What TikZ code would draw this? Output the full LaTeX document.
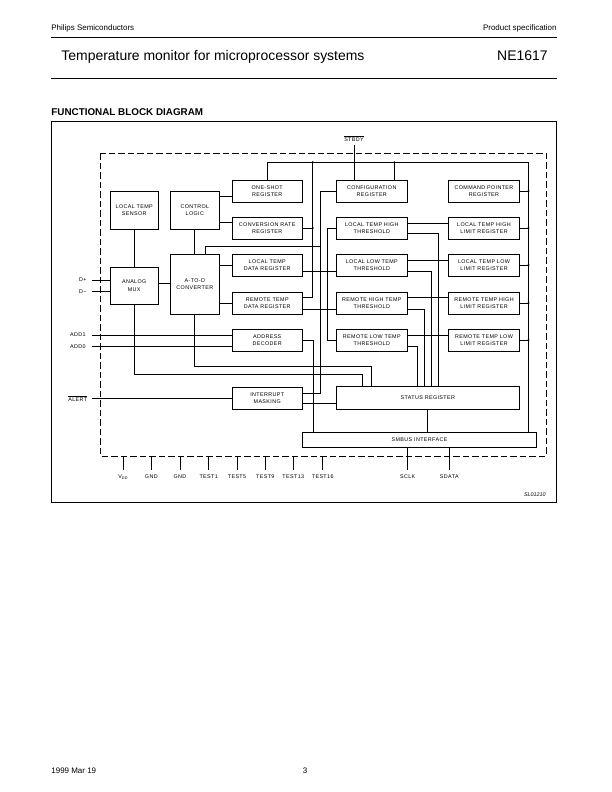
\documentclass[tikz,border=0pt]{standalone}
\usepackage{fontspec}
\setmainfont{Liberation Sans}
\newfontfamily\blkfont[LetterSpace=7]{Liberation Sans}
\begin{document}
\begin{tikzpicture}[x=1bp,y=-1bp,line width=0.8bp,
  blk/.style={draw,line width=0.9bp,inner sep=0pt,align=center,font=\blkfont\fontsize{5.4}{7.2}\selectfont},
  reg/.style={blk,minimum width=70.5bp,minimum height=22bp},
  dot/.style={circle,fill,inner sep=0pt,minimum size=2.2bp},
  pinlab/.style={inner sep=0pt,font=\blkfont\fontsize{5.4}{6}\selectfont},
  dashbox/.style={line width=0.8bp,dash pattern=on 6.5bp off 3bp}]
\fill[white] (0,0) rectangle (612,792);
\useasboundingbox (0,0) rectangle (612,792);
% header
\node[anchor=base west,inner sep=0pt,font=\fontsize{8}{9}\selectfont] (hl) at (51,30.8) {Philips Semiconductors};
\node[anchor=base east,inner sep=0pt,font=\fontsize{8}{9}\selectfont] (hr) at (557,30.8) {Product specification};
\draw[line width=0.9bp] (51,37) -- (557,37);
\node[anchor=base west,inner sep=0pt,font=\fontsize{14}{15}\selectfont] (title) at (61,61) {Temperature monitor for microprocessor systems};
\node[anchor=base east,inner sep=0pt,font=\fontsize{14}{15}\selectfont] (part) at (548,61) {NE1617};
\draw[line width=0.9bp] (51,78) -- (557,78);
\node[anchor=base west,inner sep=0pt,font=\bfseries\fontsize{9.9}{11}\selectfont] (fbd) at (51,115.5) {FUNCTIONAL BLOCK DIAGRAM};
% footer
\node[anchor=base west,inner sep=0pt,font=\fontsize{8}{9}\selectfont] (date) at (51,773) {1999 Mar 19};
\node[anchor=base,inner sep=0pt,font=\fontsize{8}{9}\selectfont] (page) at (305,773) {3};
% frames
\draw[line width=0.8bp] (51,121) rectangle (556,502);
\draw[dashbox] (100.3,153.3) rectangle (546,456);
% blocks
\node[blk,minimum width=48.5bp,minimum height=38bp] (lts) at (134.2,210) {LOCAL TEMP\\SENSOR};
\node[blk,minimum width=49bp,minimum height=38bp] (cl) at (194.8,210) {CONTROL\\LOGIC};
\node[blk,minimum width=48.5bp,minimum height=36.7bp] (mux) at (134.2,285.7) {ANALOG\\MUX};
\node[blk,minimum width=49bp,minimum height=59.7bp] (adc) at (194.8,284.2) {A-TO-D\\CONVERTER};
\node[reg] (os) at (267.2,191) {ONE-SHOT\\REGISTER};
\node[reg] (cr) at (267.2,228) {CONVERSION RATE\\REGISTER};
\node[reg] (ltd) at (267.2,265) {LOCAL TEMP\\DATA REGISTER};
\node[reg] (rtd) at (267.2,303) {REMOTE TEMP\\DATA REGISTER};
\node[reg] (ad) at (267.2,340) {ADDRESS\\DECODER};
\node[reg] (im) at (267.2,398) {INTERRUPT\\MASKING};
\node[reg] (cfg) at (371.8,191) {CONFIGURATION\\REGISTER};
\node[reg] (lht) at (371.8,228) {LOCAL TEMP HIGH\\THRESHOLD};
\node[reg] (llt) at (371.8,265) {LOCAL LOW TEMP\\THRESHOLD};
\node[reg] (rht) at (371.8,303) {REMOTE HIGH TEMP\\THRESHOLD};
\node[reg] (rlt) at (371.8,340) {REMOTE LOW TEMP\\THRESHOLD};
\node[reg] (cp) at (484,191) {COMMAND POINTER\\REGISTER};
\node[reg] (lhl) at (484,228) {LOCAL TEMP HIGH\\LIMIT REGISTER};
\node[reg] (lll) at (484,265) {LOCAL TEMP LOW\\LIMIT REGISTER};
\node[reg] (rhl) at (484,303) {REMOTE TEMP HIGH\\LIMIT REGISTER};
\node[reg] (rll) at (484,340) {REMOTE TEMP LOW\\LIMIT REGISTER};
\node[blk,minimum width=183.5bp,minimum height=22.3bp] (sr) at (427.8,398) {STATUS REGISTER};
\node[blk,minimum width=233.6bp,minimum height=15.3bp] (smb) at (419.5,439.7) {SMBUS INTERFACE};
% STBDY
\node[pinlab,inner ysep=2.5bp] (stb) at (354,139) {$\overline{\hbox{\blkfont\fontsize{5.4}{6}\selectfont STBDY}}$};
\draw (stb.south) -- (stb.south |- cfg.north);
% top bus and right bus
\draw (os.north) |- (528.5,162.3) -- (528.5,0 |- smb.north);
\draw (394.3,162.3) -- (394.3,0 |- cfg.north);
\draw (312.7,162.3) |- (rtd.east |- 0,297.7);
\draw (cr.east) -- (312.7,0 |- cr.east);
\node[dot] at (312.7,162.3) {};
\node[dot] at (394.3,162.3) {};
\node[dot] at (312.7,228) {};
% control logic
\draw (cl.east |- 0,196) -- (os.west |- 0,196);
\draw (cl.east |- 0,222.7) -- (cr.west |- 0,222.7);
\draw (cl.south) -- (adc.north);
\draw (lts.south) -- (mux.north);
\draw (mux.east |- 0,283.5) -- (adc.west |- 0,283.5);
\draw (adc.east |- ltd.west) -- (ltd.west);
\draw (adc.east |- rtd.west) -- (rtd.west);
\draw (205,0 |- adc.north) -- (205,246.7) -- (320.5,246.7);
\draw (cfg.west) -- (320.5,0 |- cfg.west) -- (320.5,393.3) -- (im.east |- 0,393.3);
% data registers to thresholds
\draw (ltd.east |- 0,271.7) -- (llt.west |- 0,271.7);
\draw (rtd.east |- 0,309.3) -- (rht.west |- 0,309.3);
\draw (lht.west) -- (327.3,0 |- lht.west) -- (327.3,0 |- rlt.west) -- (rlt.west);
\node[dot] at (327.3,271.7) {};
\node[dot] at (327.3,309.3) {};
\draw (ad.east) -- (313.3,0 |- ad.east) -- (313.3,0 |- smb.north);
% thresholds to limits and status
\draw (lht.east |- 0,223.3) -- (lhl.west |- 0,223.3);
\draw (lht.east |- 0,233.8) -| (438.3,0 |- sr.north);
\draw (llt.east |- 0,260) -- (lll.west |- 0,260);
\draw (llt.east |- 0,271.7) -| (431.7,0 |- sr.north);
\draw (rht.east |- 0,297.7) -- (rhl.west |- 0,297.7);
\draw (rht.east |- 0,309.3) -| (424.3,0 |- sr.north);
\draw (rlt.east |- 0,335) -- (rll.west |- 0,335);
\draw (rlt.east |- 0,346.7) -| (417.3,0 |- sr.north);
\foreach \n in {cp,lhl,lll,rhl,rll} {
  \draw (\n.east) -- (528.5,0 |- \n.east) node[dot] {};
}
% to status register
\draw (adc.south) |- (371.7,366) -- (371.7,0 |- sr.north);
\draw (mux.south) |- (362.3,374.3) -- (362.3,0 |- sr.north);
\draw (im.east |- 0,403.3) -- (sr.west |- 0,403.3);
\draw (sr.south) -- (sr.south |- smb.north);
% left pins
\node[pinlab,anchor=east] (dp) at (87,280) {D+};
\node[pinlab,anchor=east] (dm) at (87,291.7) {D−};
\node[pinlab,anchor=east] (a1) at (86,335) {ADD1};
\node[pinlab,anchor=east] (a0) at (86,346.7) {ADD0};
\node[pinlab,anchor=east] (al) at (87.5,398.3) {$\overline{\hbox{\blkfont\fontsize{5.4}{6}\selectfont ALERT}}$};
\draw (91.7,0 |- dp.east) -- (dp.east -| mux.west);
\draw (91.7,0 |- dm.east) -- (dm.east -| mux.west);
\draw (91.7,0 |- a1.east) -- (a1.east -| ad.west);
\draw (91.7,0 |- a0.east) -- (a0.east -| ad.west);
\draw (91.7,398.3) -- (im.west |- 0,398.3);
% bottom pins
\node[pinlab,anchor=north] (vdd) at (123.3,474.5) {V\textsubscript{DD}};
\node[pinlab,anchor=north] (g1) at (151.3,474.5) {GND};
\node[pinlab,anchor=north] (g2) at (180,474.5) {GND};
\node[pinlab,anchor=north] (t1) at (208.7,474.5) {TEST1};
\node[pinlab,anchor=north] (t5) at (237,474.5) {TEST5};
\node[pinlab,anchor=north] (t9) at (265.3,474.5) {TEST9};
\node[pinlab,anchor=north] (t13) at (293.3,474.5) {TEST13};
\node[pinlab,anchor=north] (t16) at (322.7,474.5) {TEST16};
\node[pinlab,anchor=north] (scl) at (407.7,474.5) {SCLK};
\node[pinlab,anchor=north] (sda) at (449.3,474.5) {SDATA};
\foreach \p in {vdd,g1,g2,t1,t5,t9,t13,t16} {
  \draw (\p.north |- 0,470) -- (\p.north |- 0,456);
}
\draw (scl.north |- 0,470) -- (scl.north |- smb.south);
\draw (sda.north |- 0,470) -- (sda.north |- smb.south);
\node[anchor=base east,inner sep=0pt,font=\itshape\fontsize{5.4}{6}\selectfont] (code) at (546,496.5) {SL01210};
\end{tikzpicture}
\end{document}
